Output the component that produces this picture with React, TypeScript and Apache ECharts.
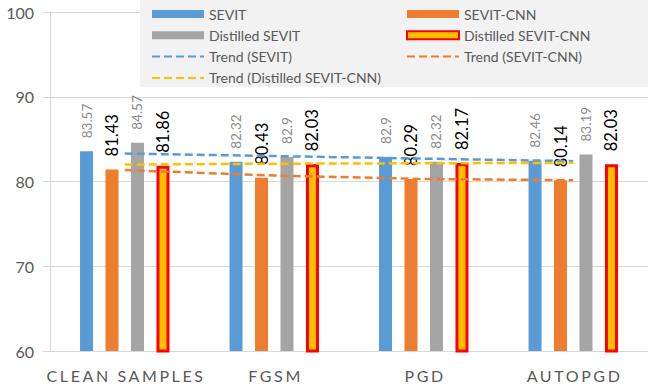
import React, { useEffect, useRef } from "react";
import * as echarts from "echarts";

const categories = ["CLEAN SAMPLES", "FGSM", "PGD", "AUTOPGD"];
const sevit = [83.57, 82.32, 82.9, 82.46];
const sevitCnn = [81.43, 80.43, 80.29, 80.14];
const distilledSevit = [84.57, 82.9, 82.32, 83.19];
const distilledSevitCnn = [81.86, 82.03, 82.17, 82.03];
const trendSevit = [83.3, 83.0, 82.7, 82.4];
const trendSevitCnn = [81.35, 80.7, 80.3, 80.15];
const trendDistilledSevitCnn = [82.0, 82.1, 82.15, 82.2];

const FONT = "Lato";
const GRAY_TEXT = "#595959";

export default function App() {
  const ref = useRef<HTMLDivElement>(null);
  useEffect(() => {
    if (!ref.current) return;
    const chart = echarts.init(ref.current, null, { renderer: "svg" });
    const grayLabel = {
      show: true,
      position: "top",
      rotate: 90,
      align: "left",
      verticalAlign: "middle",
      distance: 13,
      fontFamily: FONT,
      fontSize: 13.5,
      color: "#8c8c8c",
    };
    const blackLabel = { ...grayLabel, fontSize: 16.5, color: "#000000" };
    const legendText = { fontFamily: FONT, fontSize: 14, color: GRAY_TEXT, lineHeight: 14 };
    const trendLine = (color: string) => ({
      color,
      width: 2.5,
      type: [8, 4],
    });
    const hiddenSymbol = { opacity: 0 };
    chart.setOption({
      animation: false,
      textStyle: { fontFamily: FONT },
      grid: { left: 50, right: 3, top: 12, bottom: 38, containLabel: false },
      graphic: [
        {
          type: "rect",
          z: 10,
          silent: true,
          shape: { x: 140, y: 0, width: 508, height: 87 },
          style: { fill: "#f2f2f2" },
        },
      ],
      legend: [
        {
          data: [
            { name: "SEVIT", icon: "rect" },
            { name: "Distilled SEVIT", icon: "rect" },
            { name: "Trend (SEVIT)", itemStyle: hiddenSymbol },
            { name: "Trend (Distilled SEVIT-CNN)", itemStyle: hiddenSymbol },
          ],
          orient: "vertical",
          left: 151,
          top: 7,
          padding: 0,
          itemWidth: 52,
          itemHeight: 8,
          itemGap: 7.3,
          z: 20,
          selectedMode: false,
          textStyle: legendText,
        },
        {
          data: [
            { name: "SEVIT-CNN", icon: "rect" },
            { name: "Distilled SEVIT-CNN", icon: "rect" },
            { name: "Trend (SEVIT-CNN)", itemStyle: hiddenSymbol },
          ],
          orient: "vertical",
          left: 406,
          top: 7,
          padding: 0,
          itemWidth: 52,
          itemHeight: 8,
          itemGap: 7.3,
          z: 20,
          selectedMode: false,
          textStyle: legendText,
        },
      ],
      xAxis: {
        type: "category",
        data: categories,
        axisLine: { show: true, lineStyle: { color: "#d9d9d9", width: 1 } },
        axisTick: { show: false },
        axisLabel: {
          interval: 0,
          hideOverlap: false,
          fontFamily: FONT,
          fontSize: 16,
          color: GRAY_TEXT,
          margin: 16,
        },
      },
      yAxis: {
        type: "value",
        min: 60,
        max: 100,
        interval: 10,
        axisLine: { show: true, lineStyle: { color: "#d9d9d9", width: 1 } },
        axisTick: { show: true, length: 7, lineStyle: { color: "#d9d9d9" } },
        splitLine: { show: true, lineStyle: { color: "#d9d9d9", width: 1 } },
        axisLabel: { fontFamily: FONT, fontSize: 16, color: GRAY_TEXT, margin: 16 },
      },
      series: [
        {
          name: "SEVIT",
          type: "bar",
          data: sevit,
          barWidth: 13,
          barGap: "96%",
          itemStyle: { color: "#5b9bd5" },
          label: grayLabel,
        },
        {
          name: "SEVIT-CNN",
          type: "bar",
          data: sevitCnn,
          barWidth: 13,
          barGap: "96%",
          itemStyle: { color: "#ed7d31" },
          label: blackLabel,
        },
        {
          name: "Distilled SEVIT",
          type: "bar",
          data: distilledSevit,
          barWidth: 13,
          barGap: "96%",
          itemStyle: { color: "#a5a5a5" },
          label: grayLabel,
        },
        {
          name: "Distilled SEVIT-CNN",
          type: "bar",
          data: distilledSevitCnn,
          barWidth: 13,
          barGap: "96%",
          itemStyle: { color: "#ffc000", borderColor: "#ff0000", borderWidth: 3 },
          label: blackLabel,
        },
        {
          name: "Trend (SEVIT)",
          type: "line",
          data: trendSevit,
          symbol: "none",
          z: 5,
          lineStyle: trendLine("#5b9bd5"),
          itemStyle: { color: "#5b9bd5" },
        },
        {
          name: "Trend (SEVIT-CNN)",
          type: "line",
          data: trendSevitCnn,
          symbol: "none",
          z: 5,
          lineStyle: trendLine("#ed7d31"),
          itemStyle: { color: "#ed7d31" },
        },
        {
          name: "Trend (Distilled SEVIT-CNN)",
          type: "line",
          data: trendDistilledSevitCnn,
          symbol: "none",
          z: 5,
          lineStyle: trendLine("#ffc000"),
          itemStyle: { color: "#ffc000" },
        },
      ],
    });
    // widen the letter spacing of the category labels, as in the reference
    const texts = ref.current.querySelectorAll("text");
    texts.forEach((t) => {
      if (categories.includes(t.textContent || "")) {
        t.setAttribute("letter-spacing", "2.6");
        t.setAttribute("dx", "1.3");
      }
    });
    return () => chart.dispose();
  }, []);
  return (
    <div
      ref={ref}
      style={{ position: "fixed", left: 0, top: 0, width: 651, height: 389, background: "#fff" }}
    />
  );
}
